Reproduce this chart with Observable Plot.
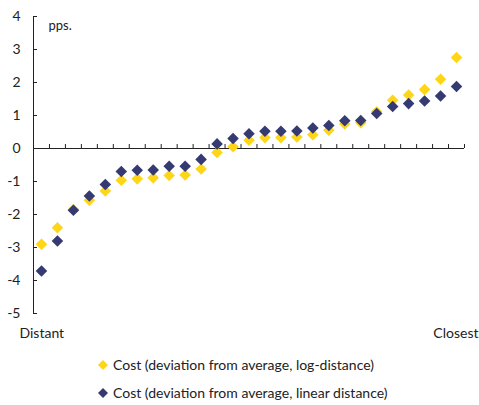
<!DOCTYPE html>
<html><head><meta charset="utf-8">
<script src="https://cdn.jsdelivr.net/npm/d3@7"></script>
<script src="https://cdn.jsdelivr.net/npm/@observablehq/plot@0.6"></script>
<style>
body{margin:0;background:#fff;font-family:Lato,sans-serif;color:#222}
#wrap{position:relative;width:479px;height:405px}
.leg{position:absolute;left:97px;font-size:14px;display:flex;align-items:center;white-space:nowrap}
.leg svg{margin-right:4px}
</style></head><body><div id="wrap"><div id="chart"></div>
<div class="leg" style="top:356px"><svg width="12" height="12"><path d="M6,1L11,6L6,11L1,6Z" fill="#FFD617"/></svg>Cost (deviation from average, log-distance)</div>
<div class="leg" style="top:384px"><svg width="12" height="12"><path d="M6,1L11,6L6,11L1,6Z" fill="#363A72"/></svg>Cost (deviation from average, linear distance)</div>
</div>
<script>
const logDistance = [-2.90,-2.40,-1.85,-1.57,-1.29,-0.96,-0.92,-0.89,-0.82,-0.80,-0.62,-0.12,0.05,0.25,0.33,0.33,0.35,0.42,0.55,0.74,0.78,1.11,1.46,1.62,1.79,2.10,2.76];
const linearDistance = [-3.71,-2.80,-1.87,-1.44,-1.09,-0.70,-0.66,-0.65,-0.54,-0.54,-0.33,0.14,0.30,0.45,0.52,0.52,0.53,0.62,0.70,0.84,0.85,1.06,1.27,1.36,1.44,1.59,1.88];
const yTicks = [-5,-4,-3,-2,-1,0,1,2,3,4];
const endLabels = ["Distant","Closest"];
const unitLabel = "pps.";
const colors = {log:"#FFD617", lin:"#363A72"};

const n = logDistance.length;
const rows = (arr, s) => arr.map((v,i)=>({i: i+0.5, v, s}));
const dataLog = rows(logDistance,"log");
const dataLin = rows(linearDistance,"lin");
const boundaries = d3.range(1, n+1);

const chart = Plot.plot({
  width: 479, height: 345,
  marginLeft: 33, marginRight: 15, marginTop: 16, marginBottom: 32,
  style: {fontFamily: "Lato, sans-serif", fontSize: "14px", color: "#222"},
  x: {domain: [0, n], axis: null},
  y: {domain: [-5, 4], axis: null},
  marks: [
    Plot.axisY(yTicks, {label: null, tickSize: -4, tickPadding: 17, tickFormat: d => String(d), stroke: "#222", fontSize: 14, fill: "#222"}),
    Plot.ruleX([0], {y1: -5, y2: 4, stroke: "#222"}),
    Plot.ruleY([0], {x1: 0, x2: n, stroke: "#222"}),
    Plot.ruleX(boundaries, {y1: 0, y2: 0.12, stroke: "#222"}),
    Plot.dot(dataLog, {x: "i", y: "v", symbol: "diamond2", r: 5.2, fill: colors.log, stroke: null}),
    Plot.dot(dataLin, {x: "i", y: "v", symbol: "diamond2", r: 5.2, fill: colors.lin, stroke: null}),
    Plot.text([unitLabel], {x: 0, y: 4, dx: 15, dy: 9, textAnchor: "start", fontSize: 13, fill: "#222"}),
    Plot.text([endLabels[0]], {x: 0, y: -5, dx: -14, dy: 20, textAnchor: "start", fontSize: 14, fill: "#222"}),
    Plot.text([endLabels[1]], {x: n, y: -5, dx: 14, dy: 20, textAnchor: "end", fontSize: 14, fill: "#222"})
  ]
});
document.getElementById("chart").appendChild(chart);
</script></body></html>
